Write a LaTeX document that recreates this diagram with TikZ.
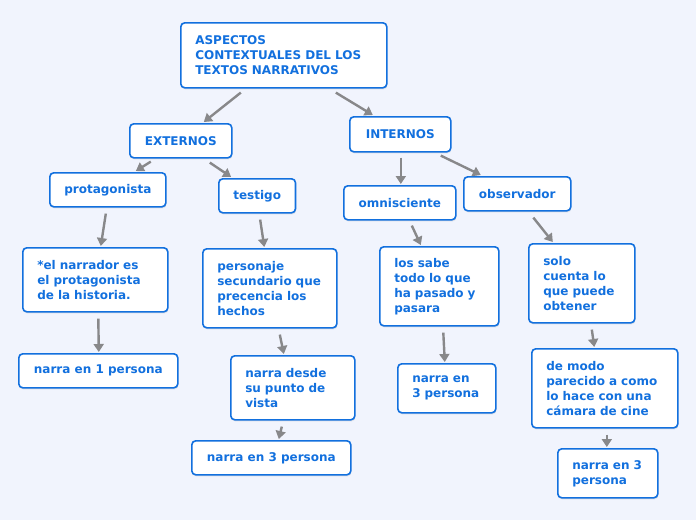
\documentclass[tikz,border=0pt]{standalone}
\usepackage{fontspec}
\setmainfont{DejaVu Sans}
\usetikzlibrary{arrows.meta,shadows}
\definecolor{bgc}{RGB}{241,244,253}
\definecolor{bluec}{RGB}{18,112,222}
\definecolor{arrc}{RGB}{136,136,138}
\tikzset{
  box/.style={draw=bluec, line width=1.6pt, rounded corners=4pt, fill=white,
    text=bluec, font=\fontsize{12}{15}\selectfont\bfseries, anchor=north west,
    inner xsep=14.5pt, inner ysep=2pt,
    drop shadow={opacity=0.18, shadow xshift=0.6pt, shadow yshift=-1.6pt}},
  lbox/.style={box, align=left},
  arr/.style={draw=arrc, line width=2.4pt, -{Triangle[width=10pt,length=8pt]}}
}
\newcommand{\bx}[4]{minimum width=#1pt, minimum height=#2pt}
\begin{document}
\begin{tikzpicture}[x=1pt,y=-1pt]
\fill[bgc] (0,0) rectangle (696,520);
\useasboundingbox (0,0) rectangle (696,520);

\node[lbox, minimum width=206pt, minimum height=65pt, text width=177pt] (root) at (180,22) {ASPECTOS\\CONTEXTUALES DEL LOS\\TEXTOS NARRATIVOS};
\node[box, minimum width=102pt, minimum height=34pt] (ext) at (129,123) {EXTERNOS};
\node[box, minimum width=101pt, minimum height=35pt] (int) at (349,116) {INTERNOS};
\node[box, minimum width=116pt, minimum height=34pt] (prot) at (49,172) {protagonista};
\node[box, minimum width=76pt, minimum height=34pt] (test) at (218,178) {testigo};
\node[box, minimum width=112pt, minimum height=34pt] (omni) at (343,185) {omnisciente};
\node[box, minimum width=107pt, minimum height=34pt] (obs) at (463,176) {observador};
\node[lbox, minimum width=145pt, minimum height=64pt, text width=116pt] (nar) at (22,247) {*el narrador es\\el protagonista\\de la historia.};
\node[lbox, minimum width=134pt, minimum height=79pt, text width=105pt] (pers) at (202,248) {personaje\\secundario que\\precencia los\\hechos};
\node[lbox, minimum width=119pt, minimum height=79pt, text width=90pt] (sabe) at (379,246) {los sabe\\todo lo que\\ha pasado y\\pasara};
\node[lbox, minimum width=106pt, minimum height=79pt, text width=77pt] (solo) at (528,243) {solo\\cuenta lo\\que puede\\obtener};
\node[box, minimum width=159pt, minimum height=34pt] (n1) at (18,353) {narra en 1 persona};
\node[lbox, minimum width=124pt, minimum height=64pt, text width=95pt] (desde) at (230,355) {narra desde\\su punto de\\vista};
\node[box, minimum width=159pt, minimum height=34pt] (n3a) at (191,440) {narra en 3 persona};
\node[lbox, minimum width=98pt, minimum height=49pt, text width=69pt] (n3b) at (397,363) {narra en\\3 persona};
\node[lbox, minimum width=146pt, minimum height=79pt, text width=117pt] (modo) at (531,348) {de modo\\parecido a como\\lo hace con una\\cámara de cine};
\node[lbox, minimum width=100pt, minimum height=49pt, text width=71pt] (n3c) at (557,448) {narra en 3\\persona};

\draw[arr] ([shift={(-43,4)}]root.south) -- ([shift={(23,-1)}]ext.north);
\draw[arr] ([shift={(52,4)}]root.south) -- ([shift={(-27.5,-1)}]int.north);
\draw[arr] ([shift={(-30,3)}]ext.south) -- ([shift={(28,-1)}]prot.north);
\draw[arr] ([shift={(29,4)}]ext.south) -- ([shift={(-26,-1)}]test.north);
\draw[arr] ([shift={(0.5,5)}]int.south) -- ([shift={(1,-1)}]omni.north);
\draw[arr] ([shift={(40.5,3)}]int.south) -- ([shift={(-36.5,-1)}]obs.north);
\draw[arr] ([shift={(-2,6)}]prot.south) -- ([shift={(5.5,-1)}]nar.north);
\draw[arr] ([shift={(3,6)}]test.south) -- ([shift={(-5.5,-1)}]pers.north);
\draw[arr] ([shift={(12,5)}]omni.south) -- ([shift={(-18.5,-1)}]sabe.north);
\draw[arr] ([shift={(16,6)}]obs.south) -- ([shift={(-29,-1)}]solo.north);
\draw[arr] ([shift={(3,6)}]nar.south) -- ([shift={(0.5,-1)}]n1.north);
\draw[arr] ([shift={(10,6)}]pers.south) -- ([shift={(-9,-1)}]desde.north);
\draw[arr] ([shift={(4,6)}]sabe.south) -- ([shift={(-2,-1)}]n3b.north);
\draw[arr] ([shift={(10,6)}]solo.south) -- ([shift={(-10.5,-1)}]modo.north);
\draw[arr] ([shift={(-11,6)}]desde.south) -- ([shift={(7.5,-1)}]n3a.north);
\draw[arr] ([shift={(2,6)}]modo.south) -- ([shift={(-1,-1)}]n3c.north);
\end{tikzpicture}
\end{document}
